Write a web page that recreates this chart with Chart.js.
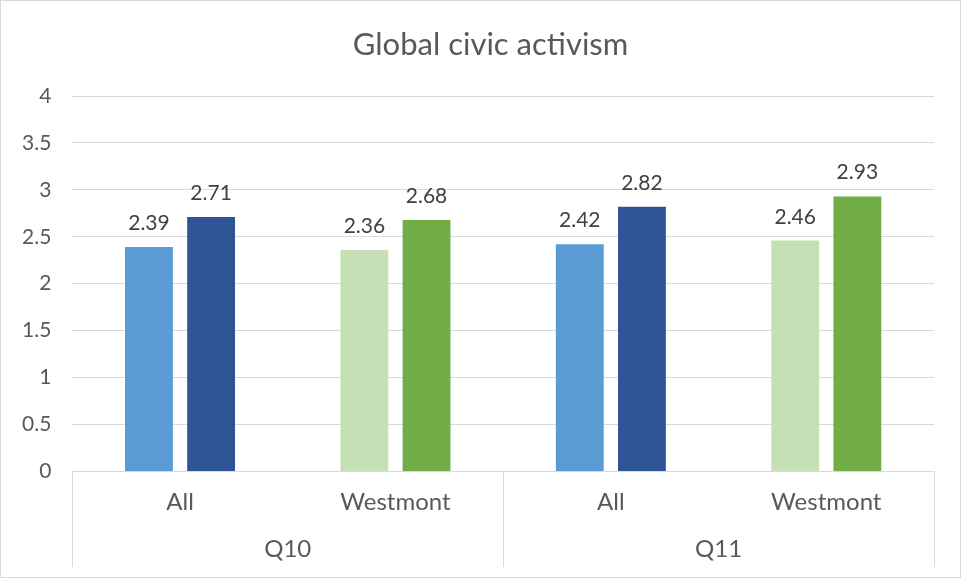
<!DOCTYPE html>
<html>
<head>
<meta charset="utf-8">
<script src="https://cdn.jsdelivr.net/npm/chart.js@4/dist/chart.umd.min.js"></script>
<style>
  html, body { margin: 0; padding: 0; background: #fff; }
  #wrap { width: 959px; height: 576px; border: 1px solid #d9d9d9; }
</style>
</head>
<body>
<div id="wrap"><canvas id="chart" width="959" height="576"></canvas></div>
<script>
const chartTitle = 'Global civic activism';
const groups = ['Q10', 'Q11'];
const categories = ['All', 'Westmont', 'All', 'Westmont'];
const lightValues = [2.39, 2.36, 2.42, 2.46];
const darkValues = [2.71, 2.68, 2.82, 2.93];
const lightColors = ['#5B9BD5', '#C5E0B4', '#5B9BD5', '#C5E0B4'];
const darkColors = ['#2F5597', '#70AD47', '#2F5597', '#70AD47'];
const yTicks = [0, 0.5, 1, 1.5, 2, 2.5, 3, 3.5, 4];

const FONT = 'Lato, "Open Sans", sans-serif';
const textColor = '#595959';
const lineColor = '#d9d9d9';

// title centred on the whole canvas, like the spreadsheet one
const titlePlugin = {
    id: 'sheetTitle',
    afterDraw(chart) {
        const ctx = chart.ctx;
        ctx.save();
        ctx.font = '31px ' + FONT;
        ctx.fillStyle = textColor;
        ctx.textAlign = 'center';
        ctx.textBaseline = 'middle';
        ctx.fillText(chartTitle, chart.width / 2 + 10, 44);
        ctx.restore();
    }
};

// value labels above each bar
const barLabels = {
    id: 'barLabels',
    afterDatasetsDraw(chart) {
        const ctx = chart.ctx;
        ctx.save();
        ctx.font = '21px ' + FONT;
        ctx.fillStyle = '#404040';
        ctx.textAlign = 'center';
        ctx.textBaseline = 'alphabetic';
        chart.data.datasets.forEach((ds, i) => {
            chart.getDatasetMeta(i).data.forEach((bar, j) => {
                ctx.fillText(ds.data[j].toFixed(2), bar.x, bar.y - 17);
            });
        });
        ctx.restore();
    }
};

// vertical separators between the Q10 / Q11 groups in the axis area
const groupLines = {
    id: 'groupLines',
    afterDraw(chart) {
        const x = chart.scales.x;
        const x2 = chart.scales.x2;
        const per = categories.length / groups.length;
        const ctx = chart.ctx;
        ctx.save();
        ctx.strokeStyle = lineColor;
        ctx.lineWidth = 1;
        for (let g = 0; g <= groups.length; g++) {
            let px;
            if (g === 0) px = x.left;
            else if (g === groups.length) px = x.right;
            else px = (x.getPixelForValue(g * per - 1) + x.getPixelForValue(g * per)) / 2;
            px = Math.round(px) + 0.5;
            ctx.beginPath();
            ctx.moveTo(px, x.top);
            ctx.lineTo(px, x2.bottom);
            ctx.stroke();
        }
        ctx.restore();
    }
};

new Chart(document.getElementById('chart'), {
    type: 'bar',
    data: {
        labels: categories,
        datasets: [
            { data: lightValues, backgroundColor: lightColors },
            { data: darkValues, backgroundColor: darkColors }
        ]
    },
    options: {
        responsive: false,
        animation: false,
        events: [],
        layout: { padding: { left: 0, right: 26, top: 95, bottom: 10 } },
        categoryPercentage: 0.577,
        barPercentage: 0.77,
        plugins: {
            legend: { display: false },
            tooltip: { enabled: false },
            title: { display: false }
        },
        scales: {
            y: {
                min: 0,
                max: 4,
                afterBuildTicks(axis) { axis.ticks = yTicks.map(v => ({ value: v })); },
                grid: { color: lineColor, drawTicks: false },
                border: { display: false },
                ticks: {
                    color: textColor,
                    padding: 21,
                    font: { family: FONT, size: 21 },
                    callback: v => String(v)
                }
            },
            x: {
                grid: { display: false, drawTicks: false },
                border: { color: lineColor },
                ticks: {
                    color: textColor,
                    padding: 16,
                    font: { family: FONT, size: 24 }
                }
            },
            x2: {
                type: 'category',
                labels: groups,
                offset: true,
                grid: { display: false, drawTicks: false },
                border: { display: false },
                ticks: {
                    color: textColor,
                    padding: 3,
                    font: { family: FONT, size: 24 }
                }
            }
        }
    },
    plugins: [titlePlugin, barLabels, groupLines]
});
</script>
</body>
</html>
